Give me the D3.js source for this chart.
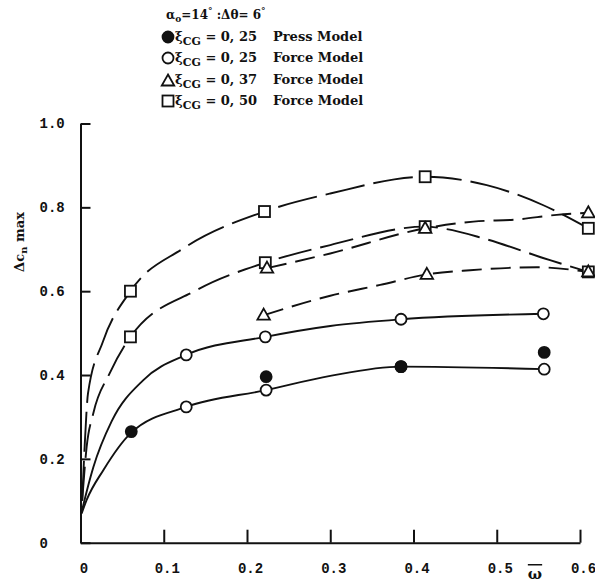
<!DOCTYPE html>
<html>
<head>
<meta charset="utf-8">
<script src="https://cdn.jsdelivr.net/npm/d3@7"></script>
<style>
  body { margin: 0; background: #fff; }
  .tick text { font-family: "Liberation Mono", monospace; font-weight: bold; font-size: 14px; fill: #111; }
  .lbl { font-family: "DejaVu Serif", serif; font-weight: bold; fill: #111; }
</style>
</head>
<body>
<svg id="chart"></svg>
<script>
// measured markers (omega, delta cn max)
const sqUpperW = [0.06, 0.221, 0.414, 0.61];
const sqUpperC = [0.60, 0.79, 0.873, 0.75];
const sqLowerW = [0.06, 0.222, 0.414, 0.61];
const sqLowerC = [0.491, 0.668, 0.754, 0.646];
const triW = [0.224, 0.414, 0.61, 0.22, 0.416, 0.61];
const triC = [0.655, 0.75, 0.787, 0.543, 0.64, 0.646];
const openW = [0.127, 0.222, 0.385, 0.556, 0.127, 0.223, 0.385, 0.557];
const openC = [0.448, 0.491, 0.533, 0.546, 0.324, 0.364, 0.42, 0.414];
const fillW = [0.061, 0.223, 0.385, 0.557];
const fillC = [0.265, 0.396, 0.42, 0.454];

// faired curves
const curveA = [[0.002,0.1],[0.005,0.23],[0.009,0.356],[0.027,0.48],[0.06,0.6],[0.1235,0.702],[0.221,0.79],[0.30,0.833],[0.414,0.873],[0.488,0.853],[0.556,0.805],[0.61,0.75]];
const curveB = [[0.002,0.1],[0.0074,0.229],[0.0154,0.309],[0.035,0.404],[0.06,0.491],[0.14,0.603],[0.222,0.668],[0.30,0.71],[0.414,0.754],[0.44,0.748],[0.484,0.726],[0.564,0.674],[0.61,0.646]];
const curveC = [[0.224,0.655],[0.30,0.69],[0.414,0.75],[0.472,0.766],[0.524,0.771],[0.572,0.782],[0.61,0.787]];
const curveD = [[0.2205,0.543],[0.30,0.589],[0.36,0.615],[0.416,0.64],[0.468,0.65],[0.548,0.657],[0.61,0.646]];
const curveE = [[0.001,0.07],[0.0034,0.09],[0.0154,0.18],[0.0375,0.29],[0.0755,0.388],[0.127,0.448],[0.222,0.491],[0.30,0.517],[0.385,0.533],[0.556,0.546]];
const curveF = [[0.0014,0.07],[0.0074,0.102],[0.0274,0.173],[0.0607,0.262],[0.127,0.324],[0.223,0.364],[0.30,0.398],[0.385,0.42],[0.557,0.414]];

const xTicks = [0, 0.1, 0.2, 0.3, 0.4, 0.5, 0.6];
const yTicks = [0, 0.2, 0.4, 0.6, 0.8, 1.0];
const legendVals = ["0, 25", "0, 25", "0, 37", "0, 50"];
const legendModels = ["Press Model", "Force Model", "Force Model", "Force Model"];
const legendMarks = ["filled", "open", "tri", "sq"];

const width = 595, height = 584;
const svg = d3.select("#chart").attr("width", width).attr("height", height);

const x = d3.scaleLinear().domain([0, 0.6]).range([80.5, 580]);
const y = d3.scaleLinear().domain([0, 1]).range([542.7, 123.5]);

// axes
const yAxis = d3.axisLeft(y).tickValues(yTicks).tickSizeInner(-10).tickSizeOuter(0)
  .tickFormat(d => d === 0 ? "0" : d3.format(".1f")(d));
const gy = svg.append("g").attr("transform", "translate(80.5,0)").call(yAxis);
gy.selectAll("text").attr("x", -41).attr("text-anchor", "start");

const xAxis = d3.axisBottom(x).tickValues(xTicks).tickSizeInner(-13).tickSizeOuter(0)
  .tickFormat(d => d === 0 ? "0" : d3.format(".1f")(d));
const gx = svg.append("g").attr("transform", "translate(0,542.7)").call(xAxis);
gx.selectAll("text").attr("y", 26).attr("dy", "0.32em").attr("dx", 3);

svg.selectAll(".domain, .tick line").attr("stroke", "#111").attr("stroke-width", 2);

// curves
const line = d3.line().x(d => x(d[0])).y(d => y(d[1])).curve(d3.curveMonotoneX);
const curves = [
  [curveA, "40,9"], [curveB, "34,9"], [curveC, "20,9"],
  [curveD, "20,9"], [curveE, null], [curveF, null]
];
curves.forEach(([pts, dash]) => {
  svg.append("path").datum(pts).attr("d", line)
    .attr("fill", "none").attr("stroke", "#111").attr("stroke-width", 1.9)
    .attr("stroke-dasharray", dash);
});

// markers
function square(g, cx, cy) {
  g.append("rect").attr("x", cx - 5.5).attr("y", cy - 5.5).attr("width", 11).attr("height", 11)
    .attr("fill", "#fff").attr("stroke", "#111").attr("stroke-width", 1.8);
}
function tri(g, cx, cy) {
  const s = 12.5;
  g.append("path").attr("d", `M${cx},${cy - 6.5}L${cx + s / 2},${cy + 4.5}L${cx - s / 2},${cy + 4.5}Z`)
    .attr("fill", "#fff").attr("stroke", "#111").attr("stroke-width", 1.8);
}
function circ(g, cx, cy, filled) {
  g.append("circle").attr("cx", cx).attr("cy", cy).attr("r", 5.5)
    .attr("fill", filled ? "#111" : "#fff").attr("stroke", "#111").attr("stroke-width", 1.8);
}
const mk = svg.append("g");
sqUpperW.forEach((w, i) => square(mk, x(w), y(sqUpperC[i])));
sqLowerW.forEach((w, i) => square(mk, x(w), y(sqLowerC[i])));
triW.forEach((w, i) => tri(mk, x(w), y(triC[i])));
openW.forEach((w, i) => circ(mk, x(w), y(openC[i]), false));
fillW.forEach((w, i) => circ(mk, x(w), y(fillC[i]), true));

// axis titles
const yl = svg.append("text").attr("class", "lbl").attr("font-size", 13)
  .attr("transform", "translate(24,242) rotate(-90)").attr("text-anchor", "middle");
yl.append("tspan").text("Δc");
yl.append("tspan").attr("font-size", 10).attr("dy", 3).text("n");
yl.append("tspan").attr("dy", -3).text(" max");

svg.append("text").attr("class", "lbl").attr("font-size", 15)
  .attr("x", 535).attr("y", 579).attr("text-anchor", "middle")
  .attr("text-decoration", "overline").text("ω");

// legend
const hd = svg.append("text").attr("class", "lbl").attr("font-size", 12).attr("x", 166).attr("y", 19);
hd.append("tspan").text("α");
hd.append("tspan").attr("font-size", 9).attr("dy", 3).text("o");
hd.append("tspan").attr("dy", -3).text("=14");
hd.append("tspan").attr("font-size", 9).attr("dy", -5).text("°");
hd.append("tspan").attr("dy", 5).text(" :Δθ= 6");
hd.append("tspan").attr("font-size", 9).attr("dy", -5).text("°");

const rowY = [37, 58, 80, 101];
const lg = svg.append("g");
legendVals.forEach((v, i) => {
  const cy = rowY[i];
  const m = legendMarks[i];
  if (m === "filled") circ(lg, 168, cy, true);
  else if (m === "open") circ(lg, 168, cy, false);
  else if (m === "tri") tri(lg, 168, cy + 1);
  else square(lg, 168, cy);
  const t = lg.append("text").attr("class", "lbl").attr("font-size", 13).attr("x", 175).attr("y", cy + 4);
  t.append("tspan").text("ξ");
  t.append("tspan").attr("font-size", 11).attr("dy", 4).text("CG");
  t.append("tspan").attr("dy", -4).text(" = " + v);
  lg.append("text").attr("class", "lbl").attr("font-size", 13).attr("x", 273).attr("y", cy + 4)
    .text(legendModels[i]);
});
</script>
</body>
</html>
